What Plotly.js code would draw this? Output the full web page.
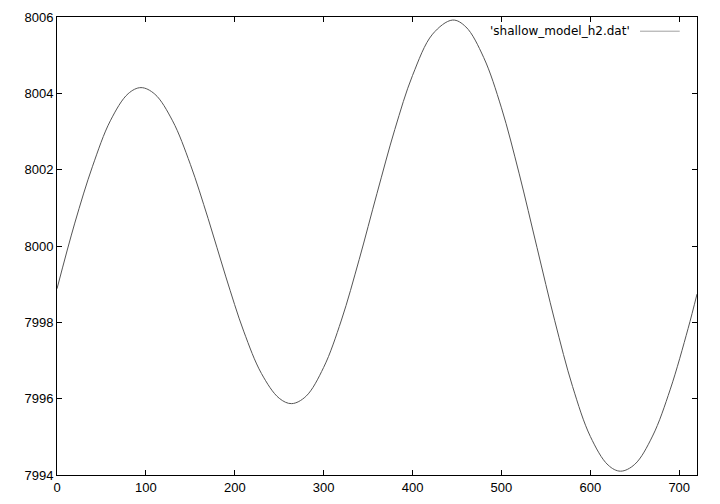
<!DOCTYPE html>
<html>
<head>
<meta charset="utf-8">
<script src="https://cdn.plot.ly/plotly-3.0.1.min.js"></script>
<style>
html,body{margin:0;padding:0;background:#fff;}
#chart{width:720px;height:504px;}
</style>
</head>
<body>
<div id="chart"></div>
<script>
const seriesName = "'shallow_model_h2.dat'";
const xValues = [0, 20, 40, 60, 80, 94.5, 110, 130, 150, 170, 190, 210, 230, 250, 264, 280, 300, 320, 340, 360, 380, 400, 422.5, 445, 460, 480, 500, 520, 540, 560, 580, 600, 620, 634, 650, 670, 690, 710, 720];
const yValues = [7998.88, 8000.60, 8002.09, 8003.28, 8003.99, 8004.15, 8003.98, 8003.28, 8002.14, 8000.72, 7999.19, 7997.77, 7996.66, 7996.01, 7995.87, 7996.06, 7996.82, 7998.06, 7999.65, 8001.38, 8003.05, 8004.47, 8005.55, 8005.92, 8005.74, 8004.94, 8003.62, 8001.89, 7999.96, 7998.04, 7996.32, 7995.01, 7994.26, 7994.10, 7994.28, 7995.02, 7996.25, 7997.84, 7998.74];
const xTicks = [0, 100, 200, 300, 400, 500, 600, 700];
const yTicks = [7994, 7996, 7998, 8000, 8002, 8004, 8006];

const tickFont = {family: 'Liberation Sans, Arial, sans-serif', size: 13, color: '#000'};
const legendFont = {family: 'DejaVu Sans, sans-serif', size: 12, color: '#000'};
const axisCommon = {
  showline: true, linecolor: '#000', linewidth: 1, mirror: 'ticks',
  ticks: 'inside', ticklen: 5, tickwidth: 1, tickcolor: '#000',
  showgrid: false, zeroline: false, tickfont: tickFont, fixedrange: true
};

const trace = {
  x: xValues, y: yValues, type: 'scatter', mode: 'lines',
  name: seriesName, showlegend: false,
  line: {color: '#555555', width: 1, shape: 'spline', smoothing: 1}
};

const layout = {
  width: 720, height: 504,
  margin: {l: 57, r: 23, t: 17, b: 29, pad: 0},
  paper_bgcolor: '#fff', plot_bgcolor: '#fff',
  font: tickFont,
  xaxis: Object.assign({}, axisCommon, {range: [0, 720], tickvals: xTicks, ticktext: xTicks.map(String)}),
  yaxis: Object.assign({}, axisCommon, {range: [7994, 8006], tickvals: yTicks, ticktext: yTicks.map(String)}),
  annotations: [{
    xref: 'paper', yref: 'paper', x: 0.899, y: 0.969, xanchor: 'right', yanchor: 'middle',
    text: seriesName, showarrow: false, font: legendFont
  }],
  shapes: [{
    type: 'line', xref: 'paper', yref: 'paper', x0: 0.911, x1: 0.973, y0: 0.969, y1: 0.969,
    line: {color: '#a0a0a0', width: 1}
  }]
};

Plotly.newPlot('chart', [trace], layout, {staticPlot: true, displayModeBar: false});
</script>
</body>
</html>
